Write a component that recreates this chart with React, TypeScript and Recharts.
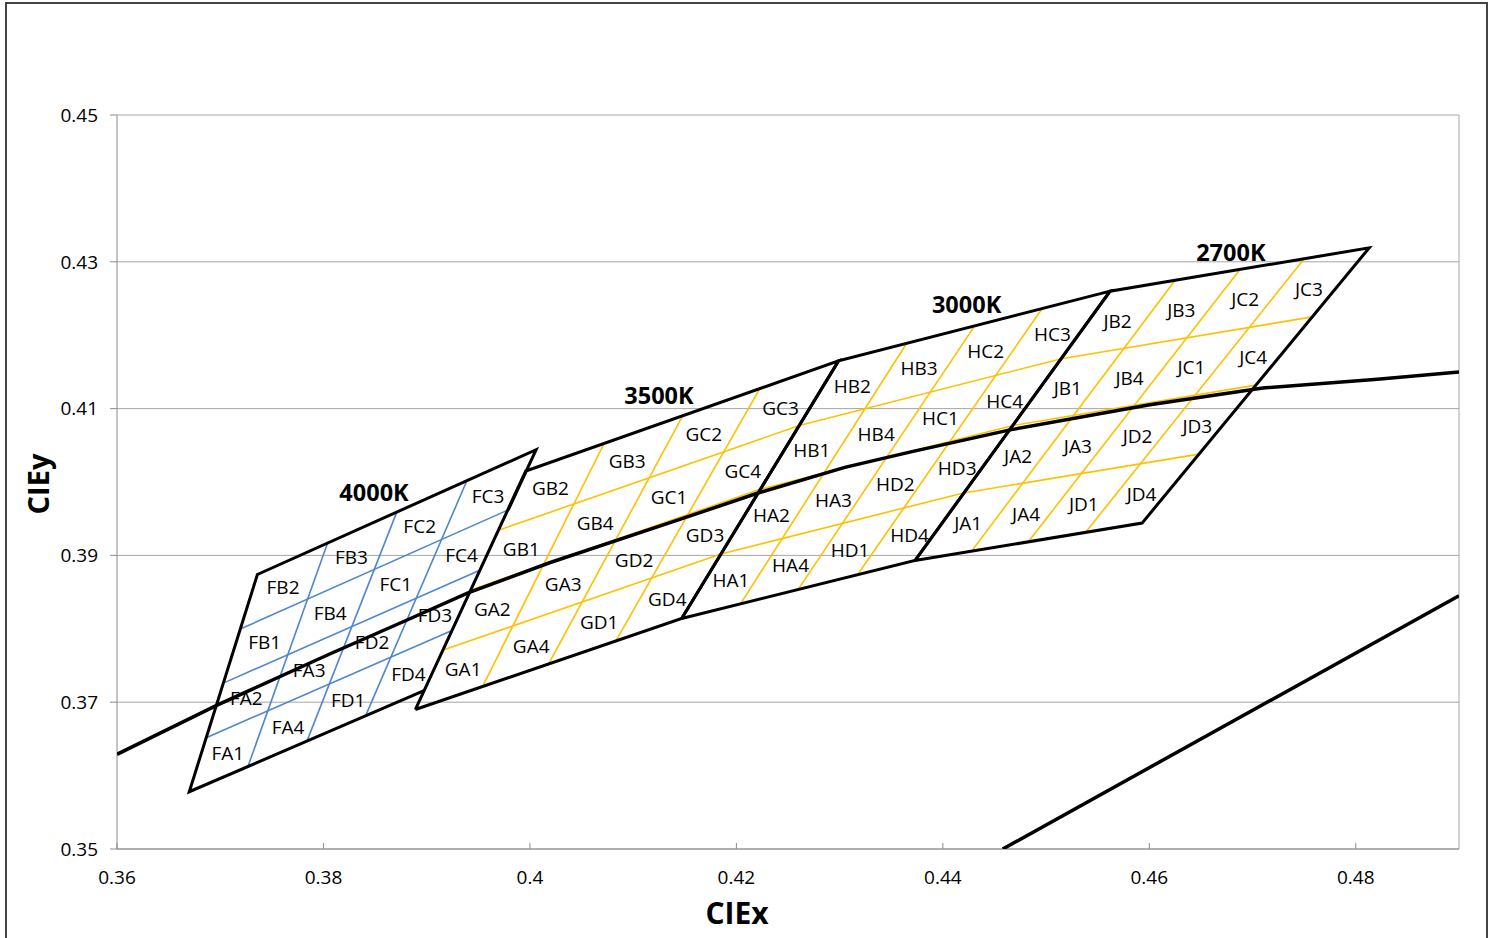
import { ComposedChart, XAxis, YAxis, CartesianGrid, Scatter, ReferenceLine } from 'recharts'

const xTicks = [0.36, 0.38, 0.4, 0.42, 0.44, 0.46, 0.48]
const yTicks = [0.35, 0.37, 0.39, 0.41, 0.43, 0.45]

// ANSI quadrangle corners: bottom-left, bottom-right, top-right, top-left
const quad4000 = [
  { x: 0.367, y: 0.3578 },
  { x: 0.3898, y: 0.3716 },
  { x: 0.4006, y: 0.4044 },
  { x: 0.3736, y: 0.3874 },
]
const quad3500 = [
  { x: 0.3889, y: 0.369 },
  { x: 0.4147, y: 0.3814 },
  { x: 0.4299, y: 0.4165 },
  { x: 0.3996, y: 0.4015 },
]
const quad3000 = [
  { x: 0.4147, y: 0.3814 },
  { x: 0.4373, y: 0.3893 },
  { x: 0.4562, y: 0.426 },
  { x: 0.4299, y: 0.4165 },
]
const quad2700 = [
  { x: 0.4373, y: 0.3893 },
  { x: 0.4593, y: 0.3944 },
  { x: 0.4813, y: 0.4319 },
  { x: 0.4562, y: 0.426 },
]

// sub-bin dividing lines [x1, y1, x2, y2]
const lines4000 = [
  [0.3727, 0.3613, 0.3804, 0.3917],
  [0.3784, 0.3647, 0.3871, 0.3959],
  [0.3841, 0.3682, 0.3939, 0.4002],
  [0.3687, 0.3652, 0.3925, 0.3798],
  [0.3703, 0.3726, 0.3952, 0.388],
  [0.372, 0.38, 0.3979, 0.3962],
  [0.3898, 0.3716, 0.3979, 0.3962],
]
const lines3500 = [
  [0.3954, 0.3721, 0.4072, 0.4053],
  [0.4018, 0.3752, 0.4148, 0.409],
  [0.4083, 0.3783, 0.4223, 0.4128],
  [0.3916, 0.3771, 0.4185, 0.3902],
  [0.3943, 0.3853, 0.4223, 0.399],
  [0.3969, 0.3934, 0.4261, 0.4077],
]
const lines3000 = [
  [0.4204, 0.3834, 0.4365, 0.4189],
  [0.426, 0.3854, 0.4431, 0.4213],
  [0.4317, 0.3873, 0.4496, 0.4236],
  [0.4185, 0.3902, 0.442, 0.3985],
  [0.4223, 0.399, 0.4468, 0.4077],
  [0.4261, 0.4077, 0.4515, 0.4168],
]
const lines2700 = [
  [0.4428, 0.3906, 0.4625, 0.4275],
  [0.4483, 0.3919, 0.4688, 0.429],
  [0.4538, 0.3931, 0.475, 0.4304],
  [0.442, 0.3985, 0.4648, 0.4038],
  [0.4468, 0.4077, 0.4703, 0.4132],
  [0.4515, 0.4168, 0.4758, 0.4225],
]

// black body locus
const locusX = [0.36, 0.3697, 0.3805, 0.3881, 0.394, 0.4019, 0.4143, 0.4221, 0.4305, 0.4369, 0.4465, 0.4599, 0.471, 0.4821, 0.49]
const locusY = [0.3629, 0.3696, 0.3765, 0.3812, 0.3849, 0.389, 0.3948, 0.3985, 0.402, 0.4041, 0.4071, 0.4105, 0.4128, 0.414, 0.415]

const straightLine = [
  { x: 0.4458, y: 0.35 },
  { x: 0.49, y: 0.3845 },
]

const cctLabels = [
  { name: '4000K', x: 0.3849, y: 0.3986 },
  { name: '3500K', x: 0.4125, y: 0.4119 },
  { name: '3000K', x: 0.4423, y: 0.4243 },
  { name: '2700K', x: 0.4679, y: 0.4313 },
]

const binGroups = [
  { prefix: 'F', quad: quad4000, lines: lines4000, color: '#4F87CF' },
  { prefix: 'G', quad: quad3500, lines: lines3500, color: '#FFC000' },
  { prefix: 'H', quad: quad3000, lines: lines3000, color: '#FFC000' },
  { prefix: 'J', quad: quad2700, lines: lines2700, color: '#FFC000' },
]

const quadrants: Record<string, number[]> = { A: [0, 0], B: [0, 0.5], C: [0.5, 0.5], D: [0.5, 0] }
const subBins: Record<string, number[]> = { '1': [0, 0], '2': [0, 0.25], '3': [0.25, 0.25], '4': [0.25, 0] }

function cellCenter(q: { x: number; y: number }[], u: number, v: number) {
  const [bl, br, tr, tl] = q
  const w = [(1 - u) * (1 - v), u * (1 - v), u * v, (1 - u) * v]
  return {
    x: w[0] * bl.x + w[1] * br.x + w[2] * tr.x + w[3] * tl.x,
    y: w[0] * bl.y + w[1] * br.y + w[2] * tr.y + w[3] * tl.y,
  }
}

const binLabels = binGroups.flatMap(g =>
  Object.keys(quadrants).flatMap(qd =>
    Object.keys(subBins).map(s => ({
      name: g.prefix + qd + s,
      ...cellCenter(g.quad, quadrants[qd][0] + subBins[s][0] + 0.125, quadrants[qd][1] + subBins[s][1] + 0.125),
    }))
  )
)

const locus = locusX.map((x, i) => ({ x, y: locusY[i] }))

function outline(q: { x: number; y: number }[]) {
  return [...q, q[0]]
}
// 4000K right edge is drawn blue below the 3500K corner
const outline4000 = [{ x: 0.3979, y: 0.3962 }, quad4000[2], quad4000[3], quad4000[0], quad4000[1]]

const font = '"Open Sans", "Noto Sans", sans-serif'
const Empty = () => <g />

const BinLabel = (p: any) => (
  <text x={p.cx} y={p.cy + 1} textAnchor="middle" dominantBaseline="central" fontSize={19} fontFamily={font} fill="#000">
    {p.payload.name}
  </text>
)
const CctLabel = (p: any) => (
  <text x={p.cx} y={p.cy} textAnchor="middle" dominantBaseline="central" fontSize={23.5} fontWeight={700} fontFamily={font} fill="#000">
    {p.payload.name}
  </text>
)

const XTick = (p: any) => (
  <g>
    <line x1={p.x} x2={p.x} y1={p.y - 8} y2={p.y - 14} stroke="#8c8c8c" strokeWidth={1} />
    <text x={p.x} y={p.y + 27} textAnchor="middle" fontSize={19} fontFamily={font} fill="#000">
      {String(p.payload.value)}
    </text>
  </g>
)

export default function App() {
  return (
    <div style={{ position: 'fixed', left: 0, top: 0, width: 1498, height: 938, overflow: 'hidden', background: '#fff' }}>
      <div style={{ position: 'absolute', left: 5, top: 2, width: 1483, height: 960, border: '2px solid #444', boxSizing: 'border-box' }} />
      <div style={{ position: 'absolute', left: 0, top: 0 }}>
        <ComposedChart width={1498} height={938} margin={{ top: 115, right: 39, bottom: 59, left: 57 }}>
          <CartesianGrid vertical={false} stroke="#a6a6a6" strokeWidth={1} />
          <XAxis
            type="number"
            dataKey="x"
            domain={[0.36, 0.49]}
            ticks={xTicks}
            allowDataOverflow
            interval={0}
            stroke="#8c8c8c"
            tickLine={false}
            tickSize={8}
            tickMargin={0}
            tick={<XTick />}
          />
          <YAxis
            type="number"
            dataKey="y"
            domain={[0.35, 0.45]}
            ticks={yTicks}
            allowDataOverflow
            interval={0}
            stroke="#8c8c8c"
            tickSize={7}
            tickMargin={12}
            tick={{ fontSize: 19, fill: '#000', fontFamily: font }}
            tickFormatter={v => String(v)}
          />
          <ReferenceLine x={0.49} stroke="#a6a6a6" strokeWidth={1} />
          {binGroups.flatMap(g =>
            g.lines.map((l, i) => (
              <Scatter
                key={g.prefix + 'l' + i}
                data={[{ x: l[0], y: l[1] }, { x: l[2], y: l[3] }]}
                fill={g.color}
                line={{ stroke: g.color, strokeWidth: 1.6 }}
                shape={<Empty />}
                isAnimationActive={false}
              />
            ))
          )}
          <Scatter data={outline4000} fill="#000" line={{ stroke: '#000', strokeWidth: 3, strokeLinejoin: 'miter' }} shape={<Empty />} isAnimationActive={false} />
          {[quad3500, quad3000, quad2700].map((q, i) => (
            <Scatter key={'o' + i} data={outline(q)} fill="#000" line={{ stroke: '#000', strokeWidth: 3, strokeLinejoin: 'miter' }} shape={<Empty />} isAnimationActive={false} />
          ))}
          <Scatter data={locus} fill="#000" line={{ stroke: '#000', strokeWidth: 3.5 }} shape={<Empty />} isAnimationActive={false} />
          <Scatter data={straightLine} fill="#000" line={{ stroke: '#000', strokeWidth: 3.5 }} shape={<Empty />} isAnimationActive={false} />
          <Scatter data={binLabels} fill="#000" shape={<BinLabel />} isAnimationActive={false} />
          <Scatter data={cctLabels} fill="#000" shape={<CctLabel />} isAnimationActive={false} />
        </ComposedChart>
      </div>
      <div style={{ position: 'absolute', left: 737, top: 912, transform: 'translate(-50%, -50%)', fontFamily: font, fontWeight: 700, fontSize: 30, color: '#000' }}>
        CIEx
      </div>
      <div style={{ position: 'absolute', left: 37, top: 484, transform: 'translate(-50%, -50%) rotate(-90deg)', fontFamily: font, fontWeight: 700, fontSize: 29, color: '#000', whiteSpace: 'nowrap' }}>
        CIEy
      </div>
    </div>
  )
}
